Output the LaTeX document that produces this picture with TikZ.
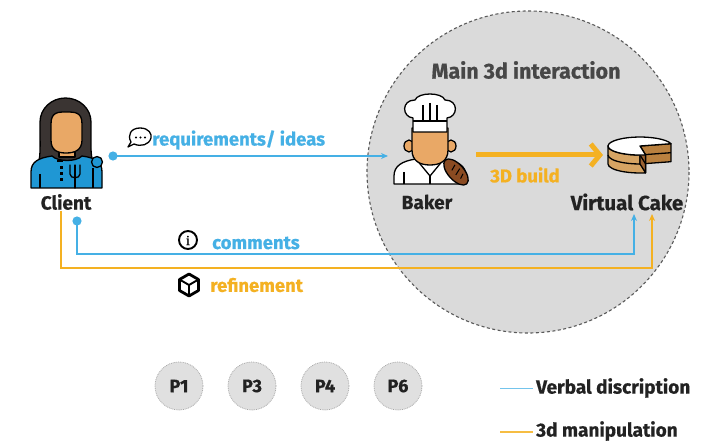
\documentclass[tikz,border=0pt]{standalone}
\usepackage{fontspec}
\setmainfont{Fira Sans}[BoldFeatures={FakeBold=0.6}]
\usetikzlibrary{arrows.meta}
\definecolor{skyline}{HTML}{45B0E5}
\definecolor{gold}{HTML}{F4B122}
\definecolor{ringgray}{HTML}{DADADA}
\definecolor{ringedge}{HTML}{5A5A5A}
\definecolor{inkdark}{HTML}{222222}
\definecolor{skin}{HTML}{E9A866}
\definecolor{hair}{HTML}{3A3432}
\definecolor{shirt}{HTML}{1F97D4}
\definecolor{sponge}{HTML}{D6A463}
\definecolor{crumb}{HTML}{9C6231}
\definecolor{crumbside}{HTML}{B9803F}
\definecolor{loaf}{HTML}{8A4B22}
\tikzset{
  lbl/.style={font=\bfseries\fontsize{19}{19}\selectfont, text=inkdark, inner sep=0pt},
  cond/.style={font=\bfseries\fontsize{18.5}{18.5}\selectfont, inner sep=0pt, anchor=west},
  ink/.style={draw=black, line width=1.3pt, line join=round},
  verbal/.style={draw=skyline, line width=1.4pt},
  manip/.style={draw=gold, line width=1.8pt},
  pbubble/.style={circle, minimum size=48pt, fill=ringgray!85, draw=gray!70, densely dotted, line width=0.8pt,
    font=\bfseries\fontsize{18}{18}\selectfont, text=inkdark, inner sep=0pt}
}
\begin{document}
\begin{tikzpicture}[x=1pt,y=-1pt]
\useasboundingbox (0,0) rectangle (709,443);
\fill[white] (0,0) rectangle (709,443);

% interaction zone
\fill[ringgray] (528,172) circle[radius=161];
\draw[ringedge, dashed, dash pattern=on 3pt off 2.5pt, line width=1.1pt] (528,172) circle[radius=161];
\node[font=\bfseries\fontsize{21.5}{21.5}\selectfont, text=black!72, inner sep=0pt] (zone) at (526,70) {Main 3d interaction};

% ---- client figure ----
\begin{scope}
  \path[ink, fill=hair] (37,166) .. controls (41,158) and (40,150) .. (40,122)
      arc[start angle=180,end angle=360,x radius=25.5,y radius=24]
      .. controls (91,150) and (90,158) .. (95,166) -- cycle;
  \draw[ink, fill=skin] (59,146) -- (59,157) -- (75,157) -- (75,146);
  \draw[ink, fill=skin] (51,124) .. controls (51,112) and (58,112) .. (66,112) .. controls (75,112) and (82,112) .. (82,124)
      -- (82,140) .. controls (82,150) and (75,153) .. (66,153) .. controls (57,153) and (51,150) .. (51,140) -- cycle;
  \draw[ink, fill=shirt] (31,188) -- (31,172) .. controls (31,162) and (38,158) .. (52,156)
      .. controls (58,162) and (76,162) .. (82,156) .. controls (96,158) and (102,162) .. (102,172) -- (102,188) -- cycle;
  \draw[ink] (40,174) -- (40,188);
  \fill[black] (57,160) rectangle (63,162.5);
  \fill[black] (59.5,166) rectangle (62.5,169);
  \fill[black] (59.5,172) rectangle (62.5,175);
  \fill[black] (59.5,178) rectangle (62.5,181);
  \draw[ink, line cap=round] (70,165) -- (70,174) .. controls (70,179) and (80,179) .. (80,174) -- (80,165);
  \draw[ink, line cap=round] (75,165) -- (75,188);
  \draw[ink, fill=shirt] (97,162) circle[radius=5.5];
  \draw[ink] (93,168) -- (93,188);
\end{scope}
\node[lbl] (client) at (66,202) {Client};

% ---- baker figure ----
\begin{scope}
  \draw[ink, fill=white] (394,184) -- (394,176) .. controls (394,166) and (402,161) .. (416,159)
      -- (444,159) .. controls (458,161) and (466,166) .. (466,176) -- (466,184) -- cycle;
  \draw[ink] (416,159) -- (430,176) -- (444,159);
  \draw[ink] (430,176) -- (430,184);
  \draw[ink] (404,172) -- (404,184);
  \draw[ink, fill=skin] (409,146) ellipse[x radius=5,y radius=6];
  \draw[ink, fill=skin] (451,146) ellipse[x radius=5,y radius=6];
  \draw[ink, fill=skin] (412,128) -- (412,150) .. controls (412,161) and (420,165) .. (430,165)
      .. controls (440,165) and (448,161) .. (448,150) -- (448,128) -- cycle;
  \draw[ink, fill=white] (413,132) -- (413,118) .. controls (402,117) and (401,100) .. (415,100)
      .. controls (418,92) and (442,92) .. (445,100) .. controls (459,100) and (458,117) .. (447,118)
      -- (447,132) -- cycle;
  \draw[ink] (413,121) -- (447,121);
  \draw[ink] (423,105) -- (423,121) (430,103) -- (430,121) (437,105) -- (437,121);
  \begin{scope}[shift={(456,172)}, rotate=-48]
    \draw[ink, fill=loaf] (0,0) ellipse[x radius=16,y radius=8];
    \draw[black, line width=1pt] (-6,-4) -- (-4,2) (0,-5) -- (2,2) (6,-4) -- (8,1);
  \end{scope}
\end{scope}
\node[lbl] (baker) at (427,202) {Baker};

% ---- cake ----
\begin{scope}
  % left sponge wall
  \draw[ink, fill=sponge] (608,146) -- (608,164) arc[start angle=180,end angle=80,x radius=32,y radius=9]
      -- (645.6,154.9) arc[start angle=80,end angle=180,x radius=32,y radius=9] -- cycle;
  \draw[ink] (608,155) arc[start angle=180,end angle=80,x radius=32,y radius=9];
  % cut faces
  \draw[ink, fill=crumbside] (640,146) -- (670.9,143.7) -- (670.9,161.7) -- (640,164) -- cycle;
  \draw[ink] (640,155) -- (670.9,152.7);
  \draw[ink, fill=crumb] (640,146) -- (645.6,154.9) -- (645.6,172.9) -- (640,164) -- cycle;
  \draw[ink] (640,155) -- (645.6,163.9);
  % frosting on top
  \draw[ink, fill=white] (640,146) -- (645.6,154.9) arc[start angle=80,end angle=345,x radius=32,y radius=9] -- cycle;
\end{scope}
\node[lbl, font=\bfseries\fontsize{20.5}{20.5}\selectfont] (cake) at (627,202) {Virtual Cake};

% ---- speech bubble ----
\begin{scope}
  \draw[black, line width=1.3pt, fill=white, line join=round] (131,142) .. controls (127,135) and (131,128) .. (140,128)
     .. controls (149,128) and (152,134) .. (151,138) .. controls (149,145) and (141,147) .. (134,144)
     -- (128,147) -- cycle;
  \fill[black] (136,137.5) circle[radius=1.2] (140.5,137.5) circle[radius=1.2] (145,137.5) circle[radius=1.2];
\end{scope}
\node[cond, text=skyline] (reqlbl) at (152,140) {requirements/ ideas};

% ---- info icon ----
\draw[black, line width=1.9pt, fill=white] (188,240) circle[radius=9];
\node[inner sep=0pt] (infoi) at (188,240.5) {\fontspec{Liberation Serif}[FakeBold=1]\fontsize{14}{14}\selectfont i};
\node[cond, text=skyline] (comlbl) at (212,243) {comments};

% ---- cube icon ----
\begin{scope}[shift={(189,285)}]
  \draw[black, line width=2.8pt, line join=round] (0,-11) -- (9.5,-5.5) -- (9.5,5.5) -- (0,11) -- (-9.5,5.5) -- (-9.5,-5.5) -- cycle;
  \draw[black, line width=1.9pt, line join=round] (-9.5,-5.5) -- (0,0) -- (9.5,-5.5) (0,0) -- (0,11);
\end{scope}
\node[cond, text=gold] (reflbl) at (210,285) {refinement};

% ---- connectors ----
\coordinate (reqstart) at (113,156);
\coordinate (reqend) at (388,156);
\draw[verbal, -{Stealth[length=7pt,width=6pt]}] (reqstart) -- (reqend);
\fill[skyline] (reqstart) circle[radius=4.6];

\coordinate (bakerout) at (476,155);
\coordinate (cakein) at (603,155);
\draw[gold, line width=5pt, -{Straight Barb[length=9pt,width=22pt,line width=5pt]}] (bakerout) -- (cakein);
\node[font=\bfseries\fontsize{18.5}{18.5}\selectfont, text=gold, inner sep=0pt] (buildlbl) at (525,175) {3D build};

\coordinate (comstart) at (77,221);
\coordinate (comend) at (634,214);
\draw[verbal, -{Stealth[length=7pt,width=6pt]}] (comstart) |- (634,254) -- (comend);
\fill[skyline] (comstart) circle[radius=4.6];

\coordinate (refstart) at (61,211);
\coordinate (refend) at (652,214);
\draw[manip, -{Stealth[length=7pt,width=6pt]}] (refstart) |- (652,268) -- (refend);

% ---- participants ----
\node[pbubble] (p1) at (179,386) {P1};
\node[pbubble] (p3) at (252,386) {P3};
\node[pbubble] (p4) at (325,386) {P4};
\node[pbubble] (p6) at (398,386) {P6};

% ---- legend ----
\coordinate (lega) at (500,388);
\coordinate (legb) at (533,388);
\draw[skyline!75, line width=1pt] (lega) -- (legb);
\node[lbl, anchor=west] (legverbal) at (536,388) {Verbal discription};
\coordinate (legc) at (500,432);
\coordinate (legd) at (533,432);
\draw[gold!85, line width=1.2pt] (legc) -- (legd);
\node[lbl, anchor=west] (legmanip) at (536,431) {3d manipulation};
\end{tikzpicture}
\end{document}
